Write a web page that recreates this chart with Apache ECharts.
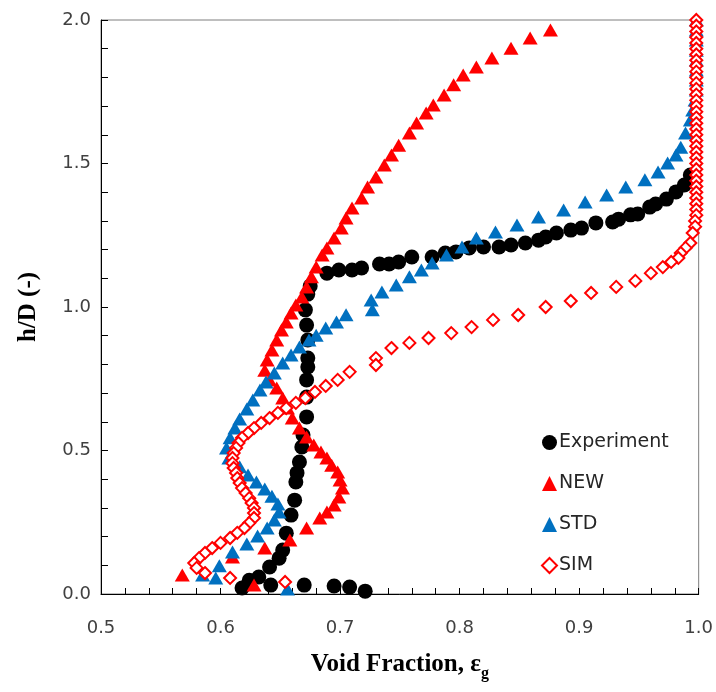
<!DOCTYPE html>
<html>
<head>
<meta charset="utf-8">
<script src="https://cdn.jsdelivr.net/npm/echarts@6/dist/echarts.min.js"></script>
<style>html,body{margin:0;padding:0;background:#fff}#c{width:716px;height:692px}</style>
</head>
<body>
<div id="c"></div>
<script>
// ---- Data ----
const xTicks = [0.5, 0.6, 0.7, 0.8, 0.9, 1.0];
const yTicks = [0.0, 0.5, 1.0, 1.5, 2.0];
const seriesNames = ['Experiment', 'NEW', 'STD', 'SIM'];

const expX = [0.721,0.708,0.695,0.670,0.642,0.618,0.624,0.632,0.641,0.649,0.652,0.655,0.659,0.662,0.663,0.664,0.666,0.668,0.669,0.672,0.672,0.672,0.673,0.673,0.673,0.672,0.671,0.673,0.675,0.689,0.699,0.710,0.718,0.733,0.741,0.749,0.760,0.777,0.788,0.797,0.808,0.820,0.833,0.843,0.855,0.866,0.872,0.881,0.893,0.902,0.914,0.928,0.933,0.943,0.949,0.959,0.964,0.973,0.981,0.988,0.993];
const expY = [0.010,0.024,0.028,0.031,0.031,0.021,0.048,0.059,0.094,0.125,0.153,0.212,0.275,0.327,0.390,0.422,0.460,0.512,0.554,0.617,0.686,0.746,0.791,0.822,0.885,0.937,0.990,1.045,1.073,1.118,1.129,1.129,1.136,1.150,1.150,1.157,1.174,1.174,1.188,1.192,1.206,1.209,1.209,1.216,1.223,1.233,1.244,1.258,1.268,1.275,1.293,1.296,1.306,1.321,1.324,1.348,1.359,1.376,1.401,1.425,1.460];

const newX = [0.876,0.859,0.843,0.827,0.814,0.803,0.795,0.787,0.778,0.772,0.764,0.758,0.749,0.743,0.737,0.730,0.723,0.718,0.710,0.705,0.701,0.695,0.689,0.685,0.680,0.676,0.672,0.668,0.663,0.659,0.655,0.651,0.647,0.643,0.639,0.637,0.641,0.647,0.652,0.656,0.660,0.666,0.672,0.678,0.684,0.689,0.693,0.698,0.700,0.702,0.699,0.695,0.689,0.683,0.672,0.658,0.637,0.610,0.568,0.628];
const newY = [1.965,1.937,1.902,1.868,1.836,1.808,1.774,1.739,1.704,1.676,1.641,1.606,1.564,1.530,1.495,1.453,1.418,1.380,1.345,1.310,1.275,1.240,1.206,1.181,1.139,1.105,1.070,1.035,1.007,0.979,0.948,0.920,0.885,0.850,0.815,0.780,0.746,0.718,0.683,0.648,0.613,0.578,0.547,0.519,0.495,0.474,0.449,0.425,0.397,0.369,0.338,0.310,0.286,0.265,0.230,0.188,0.160,0.129,0.066,0.031];

const stdX = [0.998,0.998,0.998,0.998,0.998,0.998,0.998,0.998,0.997,0.995,0.993,0.989,0.985,0.981,0.974,0.966,0.955,0.939,0.923,0.905,0.887,0.866,0.848,0.830,0.814,0.802,0.789,0.777,0.768,0.758,0.747,0.735,0.726,0.727,0.705,0.697,0.688,0.680,0.674,0.666,0.659,0.652,0.645,0.638,0.633,0.627,0.622,0.616,0.612,0.608,0.605,0.607,0.616,0.623,0.630,0.637,0.643,0.648,0.649,0.645,0.639,0.631,0.622,0.610,0.599,0.585,0.596,0.656];
const stdY = [2.000,1.965,1.930,1.895,1.861,1.826,1.791,1.756,1.721,1.686,1.652,1.606,1.557,1.530,1.502,1.470,1.443,1.418,1.390,1.366,1.338,1.314,1.286,1.261,1.240,1.209,1.181,1.153,1.129,1.105,1.077,1.052,1.024,0.990,0.973,0.948,0.927,0.902,0.885,0.861,0.833,0.805,0.770,0.739,0.711,0.676,0.645,0.610,0.578,0.544,0.509,0.474,0.443,0.415,0.390,0.366,0.341,0.314,0.286,0.258,0.230,0.202,0.174,0.146,0.098,0.066,0.056,0.017];

const simX = [0.998,0.998,0.998,0.998,0.998,0.998,0.998,0.998,0.998,0.998,0.998,0.998,0.998,0.998,0.998,0.998,0.998,0.998,0.998,0.998,0.998,0.998,0.998,0.998,0.998,0.998,0.998,0.998,0.998,0.998,0.998,0.998,0.998,0.998,0.998,0.997,0.997,0.995,0.993,0.989,0.985,0.983,0.977,0.970,0.960,0.947,0.931,0.910,0.893,0.872,0.849,0.828,0.810,0.793,0.774,0.758,0.743,0.730,0.730,0.708,0.698,0.688,0.679,0.671,0.663,0.655,0.648,0.641,0.634,0.628,0.623,0.618,0.615,0.613,0.611,0.610,0.610,0.611,0.613,0.614,0.616,0.618,0.621,0.624,0.626,0.628,0.628,0.628,0.624,0.620,0.614,0.608,0.600,0.593,0.587,0.582,0.578,0.580,0.587,0.608,0.654];
const simY = [2.000,1.980,1.960,1.940,1.920,1.900,1.880,1.860,1.840,1.820,1.800,1.780,1.760,1.740,1.720,1.700,1.680,1.660,1.640,1.620,1.600,1.580,1.560,1.540,1.520,1.500,1.480,1.460,1.440,1.420,1.400,1.380,1.360,1.340,1.320,1.300,1.280,1.258,1.223,1.206,1.188,1.171,1.157,1.139,1.118,1.091,1.070,1.049,1.021,1.000,0.972,0.955,0.930,0.909,0.892,0.875,0.857,0.822,0.798,0.774,0.746,0.725,0.704,0.683,0.666,0.648,0.631,0.613,0.596,0.578,0.561,0.544,0.526,0.509,0.491,0.474,0.456,0.439,0.422,0.404,0.387,0.369,0.352,0.334,0.317,0.300,0.282,0.265,0.247,0.230,0.213,0.195,0.178,0.160,0.143,0.125,0.108,0.091,0.073,0.056,0.042,0.021];

function zip(xs, ys) { return xs.map((x, i) => [x, ys[i]]); }

const chart = echarts.init(document.getElementById('c'), null, {renderer: 'canvas'});
const tickFont = {fontFamily: 'DejaVu Sans', fontSize: 18, color: '#404040'};

chart.setOption({
  animation: false,
  backgroundColor: '#ffffff',
  grid: {left: 101, right: 15, top: 20, bottom: 98, show: true, borderColor: '#7f7f7f', borderWidth: 1},
  legend: {
    data: seriesNames,
    orient: 'vertical',
    left: 536,
    top: 428,
    itemWidth: 15,
    itemHeight: 15,
    itemGap: 22,
    textStyle: {fontFamily: 'DejaVu Sans', fontSize: 19, color: '#262626', padding: [0,0,0,-3]}
  },
  xAxis: {
    type: 'value',
    min: xTicks[0], max: xTicks[xTicks.length-1], interval: 0.1,
    axisLine: {lineStyle: {color: '#000', width: 1}},
    axisTick: {inside: true, length: 6, lineStyle: {color: '#000'}},
    minorTick: {show: true, splitNumber: 5, length: 6, lineStyle: {color: '#000'}},
    splitLine: {show: false},
    axisLabel: Object.assign({margin: 25, formatter: v => v.toFixed(1)}, tickFont),
    name: '{a|Void Fraction, ε}{s|g}',
    nameLocation: 'middle',
    nameGap: 58,
    nameTextStyle: {
      rich: {
        a: {fontFamily: 'Liberation Serif', fontWeight: 'bold', fontSize: 25, color: '#000', lineHeight: 30, verticalAlign: 'top'},
        s: {fontFamily: 'Liberation Serif', fontWeight: 'bold', fontSize: 16, color: '#000', lineHeight: 30, verticalAlign: 'bottom'}
      }
    }
  },
  yAxis: {
    type: 'value',
    min: yTicks[0], max: yTicks[yTicks.length-1], interval: 0.5,
    axisLine: {show: true, lineStyle: {color: '#000', width: 1}},
    axisTick: {show: true, inside: true, length: 7, lineStyle: {color: '#000'}},
    minorTick: {show: true, splitNumber: 5, length: 7, lineStyle: {color: '#000'}},
    splitLine: {show: false},
    axisLabel: Object.assign({margin: 10, formatter: v => v.toFixed(1)}, tickFont),
    name: 'h/D (-)',
    nameLocation: 'middle',
    nameGap: 60,
    nameRotate: 90,
    nameTextStyle: {fontFamily: 'Liberation Serif', fontWeight: 'bold', fontSize: 25, color: '#000'}
  },
  series: [
    {name: 'Experiment', type: 'scatter', data: zip(expX, expY), symbol: 'circle', symbolSize: 15,
     itemStyle: {color: '#000000', opacity: 1}},
    {name: 'NEW', type: 'scatter', data: zip(newX, newY), symbol: 'triangle', symbolSize: [15, 13],
     itemStyle: {color: '#ff0000', opacity: 1}},
    {name: 'STD', type: 'scatter', data: zip(stdX, stdY), symbol: 'triangle', symbolSize: [15, 13],
     itemStyle: {color: '#0070c0', opacity: 1}},
    {name: 'SIM', type: 'scatter', data: zip(simX, simY), symbol: 'diamond', symbolSize: 12,
     itemStyle: {color: '#ffffff', borderColor: '#ff0000', borderWidth: 2, opacity: 1}}
  ]
});
</script>
</body>
</html>
